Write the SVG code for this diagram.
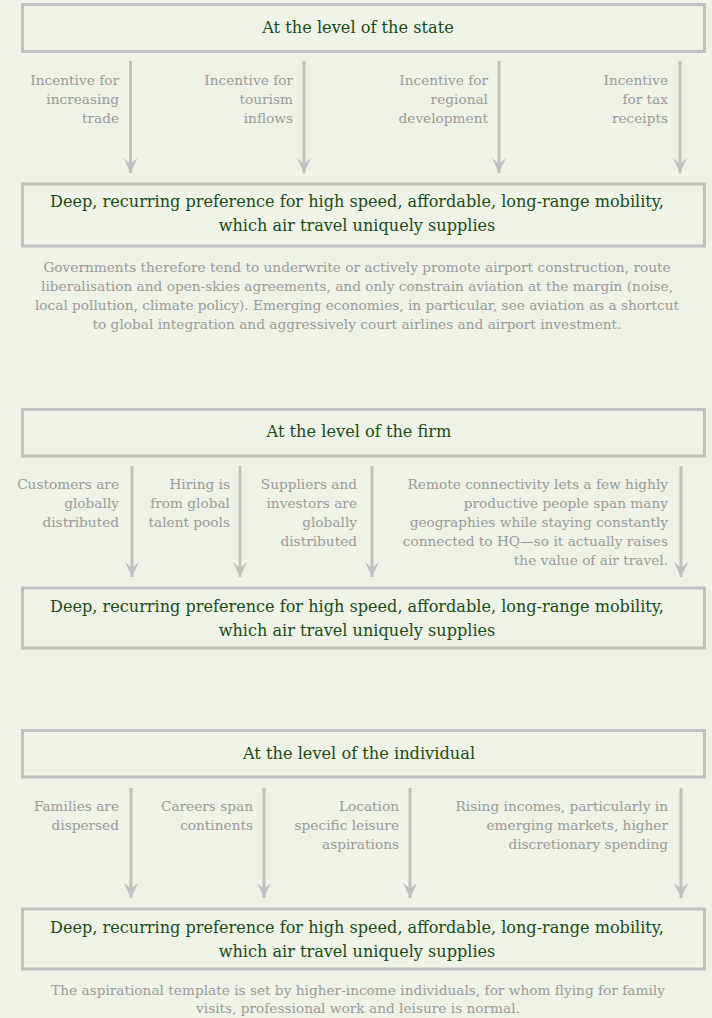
<svg xmlns="http://www.w3.org/2000/svg" width="712" height="1018" viewBox="0 0 712 1018">
<style>
.bg{fill:#eff2e6}
.box{fill:#eff2e6;stroke:#c0c0c0;stroke-width:3}
.h{font-family:"DejaVu Serif",serif;font-size:16.2px;fill:#1a4a17;text-anchor:middle}
.d{font-family:"DejaVu Serif",serif;font-size:16.1px;fill:#1a4a17;text-anchor:middle}
.l{font-family:"DejaVu Serif",serif;font-size:13.7px;fill:#9a9a9a;text-anchor:end}
.p{font-family:"DejaVu Serif",serif;font-size:13.7px;fill:#9a9a9a;text-anchor:middle}
.a{stroke:#c0c0c0;stroke-width:3;fill:none;marker-end:url(#ah)}
</style>
<defs>
<marker id="ah" markerUnits="userSpaceOnUse" markerWidth="16" markerHeight="16" refX="15" refY="7" orient="auto" viewBox="0 0 16 14">
<path d="M0,0 L15,7 L0,14 L6,7 Z" fill="#c0c0c0"/>
</marker>
</defs>
<rect class="bg" x="0" y="0" width="712" height="1018"/>

<g id="state">
<rect class="box" x="22.5" y="4.5" width="682" height="47"/>
<text class="h" x="358" y="33">At the level of the state</text>
</g>
<g id="s1-labels">
<text class="l" x="119" y="85">Incentive for</text>
<text class="l" x="119" y="104">increasing</text>
<text class="l" x="119" y="123">trade</text>
<text class="l" x="293" y="85">Incentive for</text>
<text class="l" x="293" y="104">tourism</text>
<text class="l" x="293" y="123">inflows</text>
<text class="l" x="488" y="85">Incentive for</text>
<text class="l" x="488" y="104">regional</text>
<text class="l" x="488" y="123">development</text>
<text class="l" x="668" y="85">Incentive</text>
<text class="l" x="668" y="104">for tax</text>
<text class="l" x="668" y="123">receipts</text>
</g>
<g id="pref1">
<rect class="box" x="22.5" y="184" width="682" height="62"/>
<text class="d" x="357" y="207">Deep, recurring preference for high speed, affordable, long-range mobility,</text>
<text class="d" x="357" y="231">which air travel uniquely supplies</text>
</g>
<g id="note1">
<text class="p" x="357" y="272">Governments therefore tend to underwrite or actively promote airport construction, route</text>
<text class="p" x="357" y="291">liberalisation and open-skies agreements, and only constrain aviation at the margin (noise,</text>
<text class="p" x="357" y="310">local pollution, climate policy). Emerging economies, in particular, see aviation as a shortcut</text>
<text class="p" x="357" y="329">to global integration and aggressively court airlines and airport investment.</text>
</g>

<g id="firm">
<rect class="box" x="22.5" y="409.5" width="682" height="46.5"/>
<text class="h" x="359" y="437">At the level of the firm</text>
</g>
<g id="s2-labels">
<text class="l" x="119" y="489">Customers are</text>
<text class="l" x="119" y="508">globally</text>
<text class="l" x="119" y="527">distributed</text>
<text class="l" x="230" y="489">Hiring is</text>
<text class="l" x="230" y="508">from global</text>
<text class="l" x="230" y="527">talent pools</text>
<text class="l" x="357" y="489">Suppliers and</text>
<text class="l" x="357" y="508">investors are</text>
<text class="l" x="357" y="527">globally</text>
<text class="l" x="357" y="546">distributed</text>
<text class="l" x="668" y="489">Remote connectivity lets a few highly</text>
<text class="l" x="668" y="508">productive people span many</text>
<text class="l" x="668" y="527">geographies while staying constantly</text>
<text class="l" x="668" y="546">connected to HQ—so it actually raises</text>
<text class="l" x="668" y="565">the value of air travel.</text>
</g>
<g id="pref2">
<rect class="box" x="22.5" y="588" width="682" height="60"/>
<text class="d" x="357" y="612">Deep, recurring preference for high speed, affordable, long-range mobility,</text>
<text class="d" x="357" y="636">which air travel uniquely supplies</text>
</g>

<g id="individual">
<rect class="box" x="22.5" y="730.5" width="682" height="46.5"/>
<text class="h" x="359" y="759">At the level of the individual</text>
</g>
<g id="s3-labels">
<text class="l" x="119" y="811">Families are</text>
<text class="l" x="119" y="830">dispersed</text>
<text class="l" x="253" y="811">Careers span</text>
<text class="l" x="253" y="830">continents</text>
<text class="l" x="399" y="811">Location</text>
<text class="l" x="399" y="830">specific leisure</text>
<text class="l" x="399" y="849">aspirations</text>
<text class="l" x="668" y="811">Rising incomes, particularly in</text>
<text class="l" x="668" y="830">emerging markets, higher</text>
<text class="l" x="668" y="849">discretionary spending</text>
</g>
<g id="pref3">
<rect class="box" x="22.5" y="909" width="682" height="60"/>
<text class="d" x="357" y="933">Deep, recurring preference for high speed, affordable, long-range mobility,</text>
<text class="d" x="357" y="957">which air travel uniquely supplies</text>
</g>
<g id="note3">
<text class="p" x="358" y="995">The aspirational template is set by higher-income individuals, for whom flying for family</text>
<text class="p" x="358" y="1013">visits, professional work and leisure is normal.</text>
</g>

<g id="connectors">
<line class="a" x1="130.5" y1="61" x2="130.5" y2="173"/>
<line class="a" x1="304" y1="61" x2="304" y2="173"/>
<line class="a" x1="499" y1="61" x2="499" y2="173"/>
<line class="a" x1="680" y1="61" x2="680" y2="173"/>
<line class="a" x1="132" y1="466" x2="132" y2="577"/>
<line class="a" x1="240" y1="466" x2="240" y2="577"/>
<line class="a" x1="372" y1="466" x2="372" y2="577"/>
<line class="a" x1="681" y1="466" x2="681" y2="577"/>
<line class="a" x1="131" y1="788" x2="131" y2="898"/>
<line class="a" x1="264" y1="788" x2="264" y2="898"/>
<line class="a" x1="410" y1="788" x2="410" y2="898"/>
<line class="a" x1="681" y1="788" x2="681" y2="898"/>
</g>
</svg>
